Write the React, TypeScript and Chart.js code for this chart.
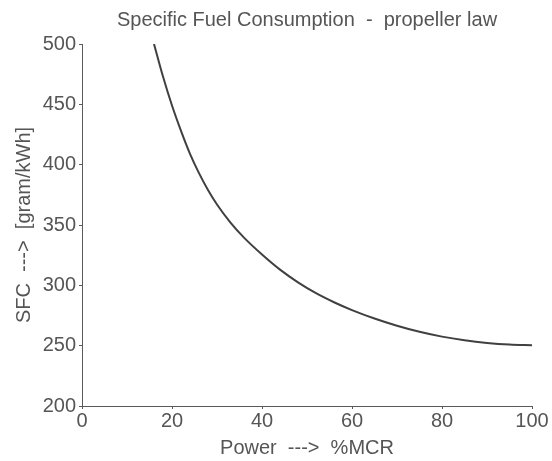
import React, { useEffect, useRef } from "react";
import { Chart, registerables } from "chart.js";

Chart.register(...registerables);

const powerPct: number[] = [16, 18, 20, 22, 24, 26, 28, 30, 33, 36, 40, 44, 48, 52, 56, 60, 65, 70, 75, 80, 85, 90, 95, 100];
const sfcValues: number[] = [500, 473, 449, 428, 409, 393, 379, 367, 352, 339.5, 325.5, 313, 302.5, 293.5, 286, 279.5, 272.5, 266.5, 261.5, 257.5, 254.5, 252.3, 250.9, 250.3];
const xTicks: number[] = [0, 20, 40, 60, 80, 100];
const yTicks: number[] = [200, 250, 300, 350, 400, 450, 500];

const chartTitle = "Specific Fuel Consumption  -  propeller law";
const xTitle = "Power  --->  %MCR";
const yTitle = "SFC  --->  [gram/kWh]";

const FONT = "'Liberation Sans', Arial, sans-serif";
const TEXT = "#555555";
const AXIS = "#5a5a5a";

const plotTitle = {
  id: "plotTitle",
  afterDraw(chart: any) {
    const { ctx, chartArea } = chart;
    ctx.save();
    ctx.fillStyle = TEXT;
    ctx.font = `20px ${FONT}`;
    ctx.textAlign = "center";
    ctx.textBaseline = "middle";
    ctx.fillText(chartTitle, (chartArea.left + chartArea.right) / 2, 20);
    ctx.restore();
  },
};

export default function App() {
  const ref = useRef<HTMLCanvasElement | null>(null);

  useEffect(() => {
    if (!ref.current) return;
    const points = powerPct.map((x, i) => ({ x, y: sfcValues[i] }));
    const chart = new Chart(ref.current, {
      type: "line",
      data: {
        datasets: [
          {
            data: points,
            borderColor: "#404040",
            borderWidth: 2,
            pointRadius: 0,
            fill: false,
            cubicInterpolationMode: "monotone",
          },
        ],
      },
      options: {
        responsive: false,
        animation: false,
        layout: { padding: { left: 0, right: 20, top: 44, bottom: 0 } },
        plugins: {
          legend: { display: false },
          tooltip: { enabled: false },
          title: { display: false },
        },
        scales: {
          x: {
            type: "linear",
            min: 0,
            max: 100,
            afterBuildTicks: (scale: any) => {
              scale.ticks = xTicks.map((v) => ({ value: v }));
            },
            afterFit: (scale: any) => {
              scale.height = 55;
            },
            ticks: {
              color: TEXT,
              font: { family: FONT, size: 20 },
              padding: 0,
              maxRotation: 0,
            },
            grid: {
              display: true,
              drawOnChartArea: false,
              drawTicks: true,
              tickLength: 3,
              color: AXIS,
            },
            border: { display: true, color: AXIS, width: 1 },
            title: {
              display: true,
              text: xTitle,
              color: TEXT,
              font: { family: FONT, size: 20 },
              padding: { top: 0, bottom: 1 },
            },
          },
          y: {
            type: "linear",
            min: 200,
            max: 500,
            afterBuildTicks: (scale: any) => {
              scale.ticks = yTicks.map((v) => ({ value: v }));
            },
            afterFit: (scale: any) => {
              scale.width = 82;
            },
            ticks: {
              color: TEXT,
              font: { family: FONT, size: 20 },
              padding: 3,
            },
            grid: {
              display: true,
              drawOnChartArea: false,
              drawTicks: true,
              tickLength: 3,
              color: AXIS,
            },
            border: { display: true, color: AXIS, width: 1 },
            title: {
              display: true,
              text: yTitle,
              color: TEXT,
              font: { family: FONT, size: 20 },
              padding: { top: 12, bottom: 0 },
            },
          },
        },
      },
      plugins: [plotTitle],
    } as any);
    return () => chart.destroy();
  }, []);

  return (
    <div style={{ position: "fixed", left: 0, top: 0, width: 552, height: 461, background: "#fff" }}>
      <canvas ref={ref} width={552} height={461} style={{ width: 552, height: 461, display: "block" }} />
    </div>
  );
}
